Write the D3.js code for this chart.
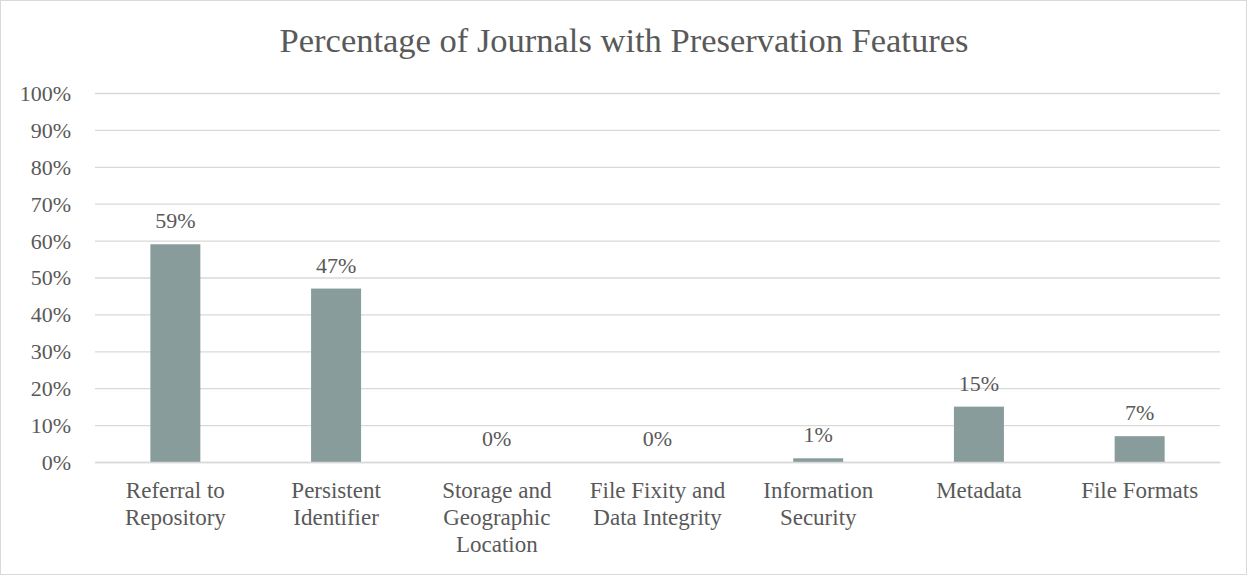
<!DOCTYPE html>
<html><head><meta charset="utf-8">
<script src="https://cdn.jsdelivr.net/npm/d3@7"></script>
<style>
html,body{margin:0;padding:0;background:#fff;}
svg{display:block;}
</style></head>
<body>
<svg id="chart" width="1247" height="575"></svg>
<script>
const categories = [
  ["Referral to","Repository"],
  ["Persistent","Identifier"],
  ["Storage and","Geographic","Location"],
  ["File Fixity and","Data Integrity"],
  ["Information","Security"],
  ["Metadata"],
  ["File Formats"]
];
const values = [0.59, 0.47, 0, 0, 0.01, 0.15, 0.07];
const valueLabels = ["59%","47%","0%","0%","1%","15%","7%"];
const yTicks = [0,0.1,0.2,0.3,0.4,0.5,0.6,0.7,0.8,0.9,1.0];
const title = "Percentage of Journals with Preservation Features";

const W = 1247, H = 575;
const svg = d3.select("#chart");
const font = "'Liberation Serif','Times New Roman',serif";
const textCol = "#595959";

svg.append("rect").attr("x",0.5).attr("y",0.5).attr("width",W-1).attr("height",H-1)
  .attr("fill","#fff").attr("stroke","#d9d9d9");

const plotL = 95, plotR = 1220, plotT = 93, plotB = 462;
const x = d3.scaleBand().domain(d3.range(categories.length)).range([plotL,plotR]).paddingInner(0.689).paddingOuter(0.3445);
const y = d3.scaleLinear().domain([0,1]).range([plotB,plotT]);

svg.append("text").attr("x",624).attr("y",51.5).attr("text-anchor","middle")
  .attr("font-family",font).attr("font-size",34.5).attr("fill",textCol).text(title);

const yAxis = d3.axisLeft(y).tickValues(yTicks).tickFormat(d3.format(".0%")).tickSize(-(plotR-plotL)).tickPadding(24);
const gy = svg.append("g").attr("transform",`translate(${plotL},0)`).call(yAxis);
gy.select(".domain").remove();
gy.selectAll(".tick line").attr("stroke","#d9d9d9").attr("stroke-width",1.3);
gy.selectAll(".tick text").attr("font-family",font).attr("font-size",22).attr("fill",textCol).attr("dy","0.34em");

svg.append("g").selectAll("rect").data(values).join("rect")
  .attr("x",(d,i)=>x(i)).attr("y",d=>y(d)).attr("width",x.bandwidth()).attr("height",d=>plotB-y(d))
  .attr("fill","#879c9b");

svg.append("g").selectAll("text").data(values).join("text")
  .attr("x",(d,i)=>x(i)+x.bandwidth()/2).attr("y",d=>y(d)-16)
  .attr("text-anchor","middle").attr("font-family",font).attr("font-size",22).attr("fill",textCol)
  .text((d,i)=>valueLabels[i]);

const xAxis = d3.axisBottom(x).tickSize(0).tickFormat("");
const gx = svg.append("g").attr("transform",`translate(0,${plotB})`).call(xAxis);
gx.select(".domain").attr("stroke","#d9d9d9").attr("stroke-width",1.3);
gx.selectAll(".tick").each(function(i){
  const t = d3.select(this).append("text").attr("font-family",font).attr("font-size",23)
    .attr("fill",textCol).attr("text-anchor","middle");
  categories[i].forEach((line,k)=>{
    t.append("tspan").attr("x",0).attr("y",36.3+k*26.7).text(line);
  });
});
</script>
</body></html>
